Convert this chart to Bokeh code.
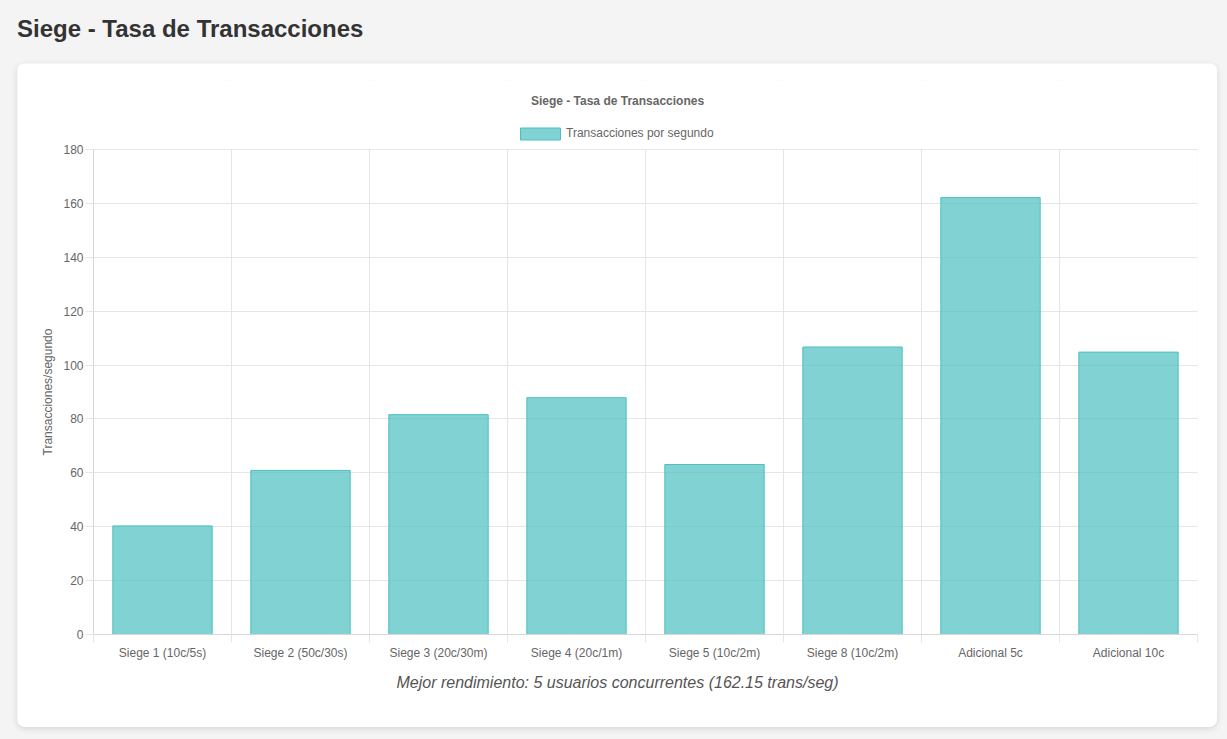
from bokeh.plotting import figure
from bokeh.models import (ColumnDataSource, FixedTicker, Grid, Legend, LegendItem,
                          Div, Range1d, Title, Label, BoxAnnotation)
from bokeh.layouts import column
from bokeh.embed import file_html
from bokeh.resources import INLINE

# ---- data ----
categories = ["Siege 1 (10c/5s)", "Siege 2 (50c/30s)", "Siege 3 (20c/30m)", "Siege 4 (20c/1m)",
              "Siege 5 (10c/2m)", "Siege 8 (10c/2m)", "Adicional 5c", "Adicional 10c"]
tps = [40.3, 60.9, 81.6, 87.9, 63.1, 106.7, 162.15, 104.8]
y_ticks = [0, 20, 40, 60, 80, 100, 120, 140, 160, 180]
page_title = "Siege - Tasa de Transacciones"
chart_title = "Siege - Tasa de Transacciones"
series_name = "Transacciones por segundo"
y_label = "Transacciones/segundo"
footer = "Mejor rendimiento: 5 usuarios concurrentes (162.15 trans/seg)"

FONT = "Liberation Sans"
TEXT = "#666666"
GRID = "#e6e6e6"
AXIS = "#d6d6d6"

n = len(categories)
y_max = y_ticks[-1]
# the frame also holds the chart title and legend above the value axis top
y_view_top = y_max * 554 / 485

centers = [i + 0.5 for i in range(n)]
source = ColumnDataSource(dict(x=centers, top=tps, cat=categories))

p = figure(width=1200, height=664, output_backend="svg", toolbar_location=None,
           x_range=Range1d(0, n), y_range=Range1d(0, y_view_top),
           min_border_left=76, min_border_right=20, min_border_top=17, min_border_bottom=93,
           border_fill_color="white", background_fill_color="white", outline_line_color=None,
           margin=(0, 0, 0, 17),
           styles={"border-radius": "8px", "box-shadow": "0 2px 6px rgba(0,0,0,0.12)",
                   "overflow": "hidden"})

p.xgrid.visible = False
p.ygrid.ticker = FixedTicker(ticks=y_ticks)
p.ygrid.grid_line_color = GRID
vgrid = Grid(dimension=0, ticker=FixedTicker(ticks=list(range(n))), grid_line_color=GRID)
p.add_layout(vgrid)
# hide the grid above the value axis top
p.add_layout(BoxAnnotation(bottom=y_max + 0.3, fill_color="white", fill_alpha=1,
                           line_color=None, level="underlay"))

r = p.vbar(x="x", top="top", width=0.72, source=source, fill_color="#4bc0c0", fill_alpha=0.7,
           line_color="#4bc0c0", line_width=1)

# x axis
xa = p.xaxis[0]
xa.ticker = FixedTicker(ticks=centers, minor_ticks=list(range(n + 1)))
xa.major_label_overrides = {c: lab for c, lab in zip(centers, categories)}
xa.major_tick_out = 8
xa.major_tick_in = 0
xa.major_tick_line_alpha = 0
xa.minor_tick_out = 8
xa.minor_tick_in = 0
xa.minor_tick_line_color = GRID
xa.axis_line_color = AXIS
xa.major_label_standoff = 3
xa.major_label_text_font = FONT
xa.major_label_text_font_size = "12px"
xa.major_label_text_color = TEXT

# y axis
ya = p.yaxis[0]
ya.ticker = FixedTicker(ticks=y_ticks)
ya.bounds = (0, y_max)
ya.major_tick_out = 8
ya.major_tick_in = 0
ya.major_tick_line_color = GRID
ya.minor_tick_line_color = None
ya.axis_line_color = AXIS
ya.major_label_standoff = 2
ya.major_label_text_font = FONT
ya.major_label_text_font_size = "12px"
ya.major_label_text_color = TEXT

# y axis title, centred on the 0..180 value span
p.add_layout(Title(text=y_label, align="left", offset=179, standoff=10,
                   vertical_align="middle",
                   text_font=FONT, text_font_size="12px", text_font_style="normal",
                   text_color=TEXT), "left")

# legend inside the frame, above the value area
legend = Legend(items=[LegendItem(label=series_name, renderers=[r])],
                location=(422, 493.5), orientation="horizontal",
                glyph_width=50, glyph_height=15, label_height=15, label_standoff=1,
                padding=0, margin=0, border_line_color=None, background_fill_alpha=0,
                label_text_font=FONT, label_text_font_size="12px", label_text_color=TEXT)
p.add_layout(legend, "center")

# chart title
p.add_layout(Label(x=524, y=534, x_units="screen", y_units="screen", text=chart_title,
                   text_align="center", text_baseline="middle", text_font=FONT,
                   text_font_size="12px", text_font_style="bold", text_color=TEXT))

# footer below x axis
p.add_layout(Title(text=footer, align="left", offset=303, standoff=22, vertical_align="top",
                   text_font=FONT, text_font_size="16px", text_font_style="italic",
                   text_color="#555555"), "below")

head = Div(text=('<div style="margin:0;padding:15px 0 0 17px;font-family:\'Liberation Sans\',Arial,sans-serif;'
                 'font-weight:bold;font-size:24px;line-height:1.15;color:#333333;">'
                 + page_title + '</div>'),
           width=1227, height=63, margin=0)

root = column(head, p, width=1227, height=739, margin=0,
              styles={"background-color": "#f4f4f4"})

open("out.html", "w").write(file_html(root, INLINE))
